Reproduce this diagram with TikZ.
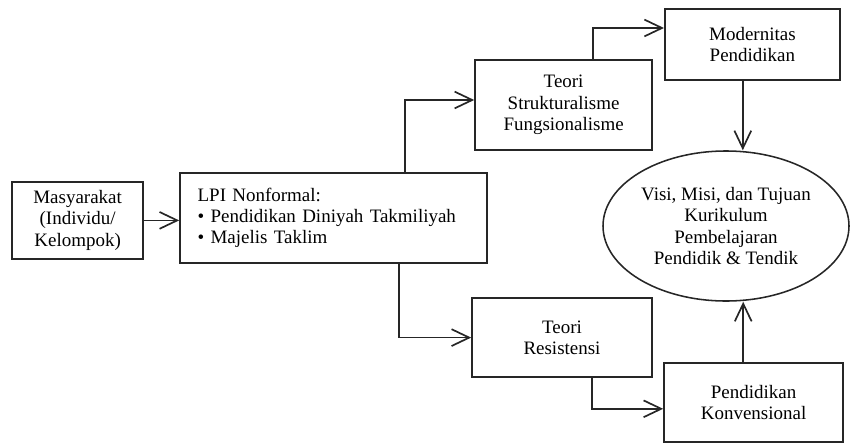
\documentclass[tikz,border=0pt]{standalone}
\usepackage{fontspec}
\setmainfont{Liberation Serif}
\usetikzlibrary{shapes.geometric, arrows.meta, positioning, calc}

\begin{document}
\begin{tikzpicture}[
  font=\fontsize{13.5}{15}\selectfont,
  kbox/.style={draw=black!85, line width=1.2pt, align=center, inner sep=3pt},
  kell/.style={draw=black!85, line width=1.1pt, ellipse, align=center, inner sep=0pt},
  karr/.style={draw=black!85, line width=1.2pt, -{Straight Barb[length=4.4mm, width=4.2mm, line width=1.2pt]}}
]
\useasboundingbox (0,0) rectangle (21.25,11.10);

%--------------------------------------------------------------
% Kotak-kotak utama
%--------------------------------------------------------------
\node[kbox, minimum width=3.28cm, minimum height=1.93cm] (masy) at (1.94,5.59)
  {Masyarakat\\ (Individu/\\ Kelompok)};

\node[kbox, minimum width=7.68cm, minimum height=2.25cm, text width=6.80cm, align=left,
      inner xsep=0.44cm] (lpi) at (8.34,5.65)
  {LPI Nonformal:\\
   \textbullet\ Pendidikan Diniyah Takmiliyah\\
   \textbullet\ Majelis Taklim};

\node[kbox, minimum width=4.43cm, minimum height=2.25cm] (struk) at (14.09,8.48)
  {Teori\\ Strukturalisme\\ Fungsionalisme};

\node[kbox, minimum width=4.50cm, minimum height=1.98cm] (resis) at (14.05,2.66)
  {Teori\\ Resistensi};

\node[kbox, minimum width=4.38cm, minimum height=1.78cm] (modern) at (18.81,9.99)
  {Modernitas\\ Pendidikan};

\node[kbox, minimum width=4.48cm, minimum height=1.98cm] (konv) at (18.84,1.04)
  {Pendidikan\\ Konvensional};

\node[kell, minimum width=6.15cm, minimum height=3.75cm] (tujuan) at (18.15,5.45)
  {Visi, Misi, dan Tujuan\\ Kurikulum\\ Pembelajaran\\ Pendidik \& Tendik};

%--------------------------------------------------------------
% Panah penghubung
%--------------------------------------------------------------
\draw[karr] (masy.east) -- (masy.east -| lpi.west);

\draw[karr] ([xshift=1.79cm]lpi.north) |- ([yshift=0.12cm]struk.west);
\draw[karr] ([xshift=1.64cm]lpi.south) |- (resis.west);

\draw[karr] ([xshift=0.74cm]struk.north) |- ([yshift=0.41cm]modern.west);
\draw[karr] ([xshift=0.75cm]resis.south) |- ([yshift=-0.16cm]konv.west);

\draw[karr] ([xshift=-0.24cm]modern.south) -- ([xshift=-0.24cm]modern.south |- tujuan.north);
\draw[karr] ([xshift=-0.26cm]konv.north) -- ([xshift=-0.26cm]konv.north |- tujuan.south);

\end{tikzpicture}
\end{document}
